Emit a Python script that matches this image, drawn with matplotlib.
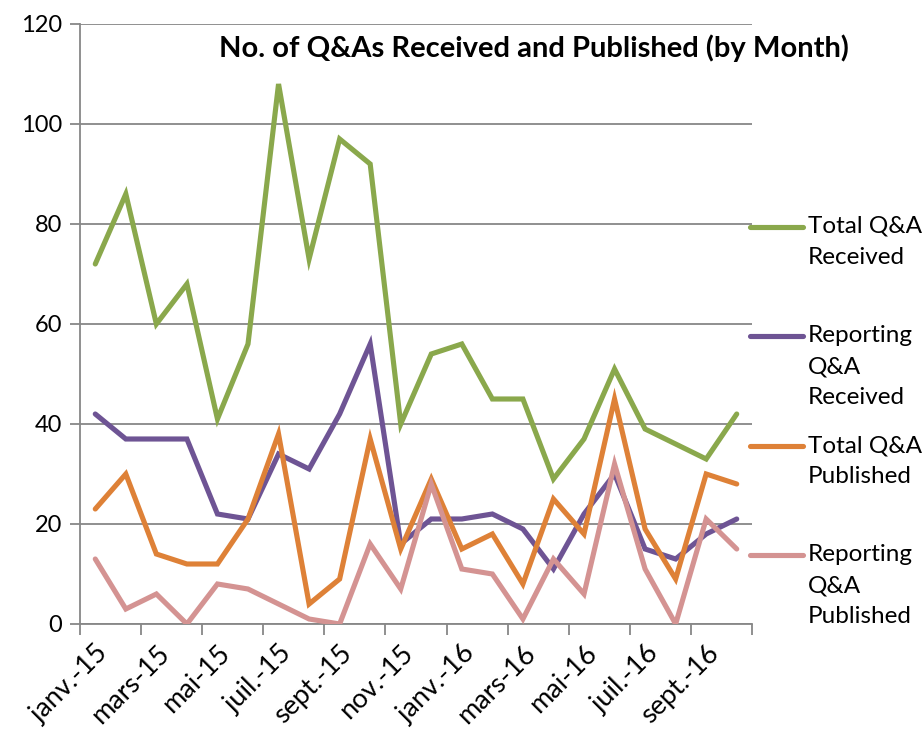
import numpy as np
import matplotlib.pyplot as plt
from matplotlib.lines import Line2D

plt.rcParams['font.family'] = ['Lato', 'DejaVu Sans']

# Monthly data, janv.-15 .. oct.-16
months = ["janv.-15", "févr.-15", "mars-15", "avr.-15", "mai-15", "juin-15",
          "juil.-15", "août-15", "sept.-15", "oct.-15", "nov.-15", "déc.-15",
          "janv.-16", "févr.-16", "mars-16", "avr.-16", "mai-16", "juin-16",
          "juil.-16", "août-16", "sept.-16", "oct.-16"]
total_received = [72, 86, 60, 68, 41, 56, 108, 73, 97, 92, 40, 54,
                  56, 45, 45, 29, 37, 51, 39, 36, 33, 42]
reporting_received = [42, 37, 37, 37, 22, 21, 34, 31, 42, 56, 16, 21,
                      21, 22, 19, 11, 22, 30, 15, 13, 18, 21]
total_published = [23, 30, 14, 12, 12, 21, 38, 4, 9, 37, 15, 29,
                   15, 18, 8, 25, 18, 45, 19, 9, 30, 28]
reporting_published = [13, 3, 6, 0, 8, 7, 4, 1, 0, 16, 7, 28,
                       11, 10, 1, 13, 6, 32, 11, 0, 21, 15]

series = [
    ("Total Q&A\nReceived", total_received, "#8aa84c"),
    ("Reporting\nQ&A\nReceived", reporting_received, "#6e5494"),
    ("Total Q&A\nPublished", total_published, "#de8137"),
    ("Reporting\nQ&A\nPublished", reporting_published, "#d49392"),
]

W, H = 924, 735
fig = plt.figure(figsize=(W / 100, H / 100), dpi=100)
ax = fig.add_axes([80 / W, 1 - 624 / H, (752 - 80) / W, 600 / H])

x = np.arange(len(months))
for label, vals, col in series:
    ax.plot(x, vals, color=col, lw=3.7, solid_joinstyle='miter',
            solid_capstyle='round', zorder=3)

grid_col = "#878787"
ax.set_ylim(0, 120)
ax.set_yticks(range(0, 121, 20))
ax.set_xlim(-0.5, len(months) - 0.5)
ax.yaxis.grid(True, color=grid_col, lw=1.3)
ax.set_axisbelow(True)
for s in ["top", "right"]:
    ax.spines[s].set_visible(False)
for s in ["left", "bottom"]:
    ax.spines[s].set_color(grid_col)
    ax.spines[s].set_linewidth(1.3)

# x ticks: boundaries every two months, labels on every second month
ax.set_xticks(np.arange(-0.5, len(months), 2))
ax.set_xticklabels([])
ax.set_xticks(x[::2], minor=True)
ax.set_xticklabels(months[::2], minor=True, rotation=45, ha='right',
                   rotation_mode='anchor', fontsize=19.5)
ax.tick_params(axis='x', which='major', length=8, width=1.3, color=grid_col,
               direction='out')
ax.tick_params(axis='x', which='minor', length=0, pad=12)
ax.tick_params(axis='y', length=7, width=1.3, color=grid_col, labelsize=17,
               pad=6)

ax.text(0.676, 0.96, "No. of Q&As Received and Published (by Month)",
        transform=ax.transAxes, ha='center', va='center', fontsize=21,
        fontweight='bold')

# legend on the right, handle aligned with the first label line
leg_y = [227, 336, 446, 555]
for (label, vals, col), yp in zip(series, leg_y):
    yf = 1 - yp / H
    fig.add_artist(Line2D([750 / W, 803 / W], [yf, yf], color=col, lw=3.7,
                          solid_capstyle='round'))
    fig.text(808 / W, 1 - (yp - 11) / H, label, ha='left', va='top',
             fontsize=17.5, linespacing=1.6)

fig.savefig("out.png", dpi=100)
